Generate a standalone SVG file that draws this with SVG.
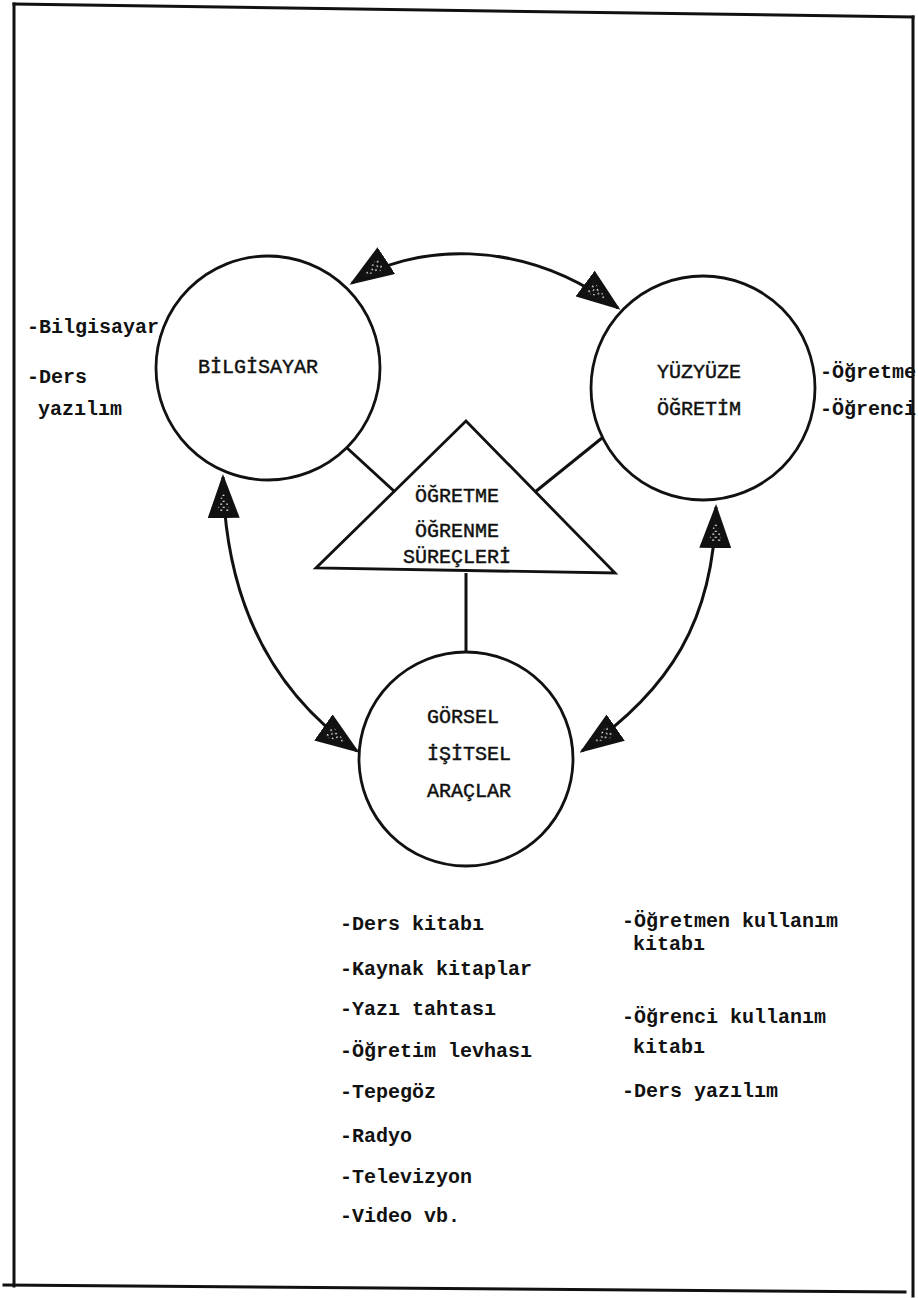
<svg xmlns="http://www.w3.org/2000/svg" width="918" height="1298" viewBox="0 0 918 1298">
  <defs>
    <style>
      .frame { fill: none; stroke: #111; stroke-width: 3; stroke-linecap: square; }
      .node { fill: none; stroke: #111; stroke-width: 2.8; }
      .link { fill: none; stroke: #111; stroke-width: 3; }
      .arc { fill: none; stroke: #111; stroke-width: 3; marker-start: url(#head); marker-end: url(#head); }
      .txt { font-family: "Liberation Mono", "Courier New", monospace; font-size: 20px; fill: #111; }
      .title { stroke: #111; stroke-width: 0.45; }
      .item { font-weight: bold; }
    </style>
    <!-- halftone speckle used inside the arrowheads -->
    <pattern id="speckle" patternUnits="userSpaceOnUse" width="6" height="6">
      <rect width="6" height="6" fill="#111"/>
      <rect x="1" y="1" width="1.6" height="1.4" fill="#fff"/>
      <rect x="4" y="3.5" width="1.3" height="1.6" fill="#fff"/>
    </pattern>
    <marker id="head" viewBox="0 0 44 32" refX="41" refY="16" markerWidth="44" markerHeight="32" markerUnits="userSpaceOnUse" orient="auto-start-reverse">
      <path d="M0,0 L44,16 L0,32 Z" fill="#111"/>
      <path d="M6,9 L28,16 L6,23 Z" fill="url(#speckle)"/>
    </marker>
  </defs>

  <rect width="918" height="1298" fill="#fff"/>

  <!-- page frame -->
  <g id="frame">
    <path class="frame" d="M14,4 L913,17"/>
    <path class="frame" d="M14,4 L14,1286"/>
    <path class="frame" d="M913,17 L913,1296"/>
    <path class="frame" d="M4,1285 L905,1292"/>
  </g>

  <!-- connectors -->
  <g id="connectors">
    <path class="arc" d="M352,283 C410,245 520,235 618,308"/>
    <path class="arc" d="M223,477 C225,600 270,690 357,751"/>
    <path class="arc" d="M716,507 C714,620 670,690 582,751"/>
    <path class="link" d="M346,447 L395,492"/>
    <path class="link" d="M602,438 L535,492"/>
    <path class="link" d="M466,573 L466,653"/>
  </g>

  <g id="bilgisayar">
    <circle class="node" cx="268" cy="368" r="112"/>
    <text class="txt title" x="198" y="373">BİLGİSAYAR</text>
  </g>

  <g id="bilgisayar-items" class="txt item">
    <text x="27" y="333">-Bilgisayar</text>
    <text x="27" y="383">-Ders</text>
    <text x="38" y="415">yazılım</text>
  </g>

  <g id="yuzyuze">
    <circle class="node" cx="703" cy="388" r="112"/>
    <text class="txt title" x="657" y="378">YÜZYÜZE</text>
    <text class="txt title" x="657" y="415">ÖĞRETİM</text>
  </g>

  <g id="yuzyuze-items" class="txt item">
    <text x="820" y="378">-Öğretme</text>
    <text x="820" y="415">-Öğrenci</text>
  </g>

  <g id="ogretme-ogrenme">
    <polygon class="node" points="466,421 316,568 615,573" stroke-width="3.2"/>
    <text class="txt title" x="415" y="502">ÖĞRETME</text>
    <text class="txt title" x="415" y="537">ÖĞRENME</text>
    <text class="txt title" x="403" y="563">SÜREÇLERİ</text>
  </g>

  <g id="gorsel-isitsel">
    <circle class="node" cx="466" cy="759" r="107"/>
    <text class="txt title" x="427" y="723">GÖRSEL</text>
    <text class="txt title" x="427" y="760">İŞİTSEL</text>
    <text class="txt title" x="427" y="797">ARAÇLAR</text>
  </g>

  <g id="gorsel-items" class="txt item">
    <text x="340" y="930">-Ders kitabı</text>
    <text x="340" y="975">-Kaynak kitaplar</text>
    <text x="340" y="1015">-Yazı tahtası</text>
    <text x="340" y="1057">-Öğretim levhası</text>
    <text x="340" y="1098">-Tepegöz</text>
    <text x="340" y="1142">-Radyo</text>
    <text x="340" y="1183">-Televizyon</text>
    <text x="340" y="1222">-Video vb.</text>
  </g>

  <g id="kitap-items" class="txt item">
    <text x="622" y="927">-Öğretmen kullanım</text>
    <text x="633" y="950">kitabı</text>
    <text x="622" y="1023">-Öğrenci kullanım</text>
    <text x="633" y="1053">kitabı</text>
    <text x="622" y="1097">-Ders yazılım</text>
  </g>
</svg>
